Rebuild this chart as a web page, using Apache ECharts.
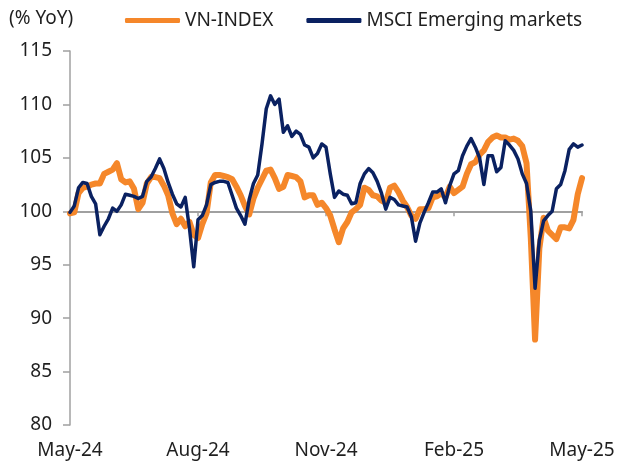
<!DOCTYPE html>
<html>
<head>
<meta charset="utf-8">
<script src="https://cdn.jsdelivr.net/npm/echarts@6/dist/echarts.min.js"></script>
<style>
html,body{margin:0;padding:0;background:#fff}
#main{width:622px;height:466px}
</style>
</head>
<body>
<div id="main"></div>
<script>
var tickLabels = ['May-24', 'Aug-24', 'Nov-24', 'Feb-25', 'May-25'];

var vnIndex = [
  99.8, 99.9, 101.7, 102.2, 102.3, 102.5, 102.6, 102.6, 103.5, 103.7,
  103.9, 104.5, 103.0, 102.7, 102.8, 102.1, 100.2, 100.8, 102.6, 103.2,
  103.2, 103.1, 102.4, 101.5, 99.8, 98.8, 99.3, 98.6, 99.0, 97.8,
  97.5, 98.8, 99.8, 102.7, 103.4, 103.4, 103.3, 103.2, 103.0, 102.3,
  101.5, 100.5, 99.7, 101.2, 102.2, 103.0, 103.8, 103.9, 103.1, 102.1,
  102.3, 103.4, 103.3, 103.2, 102.8, 101.3, 101.5, 101.5, 100.6, 100.8,
  100.3, 99.6, 98.3, 97.1, 98.4, 99.0, 99.9, 100.2, 100.6, 102.2,
  102.0, 101.5, 101.4, 101.0, 100.8, 102.2, 102.4, 101.8, 101.0, 100.4,
  99.6, 99.3, 100.2, 100.2, 100.3, 101.3, 101.4, 101.7, 101.3, 102.3,
  101.7, 102.0, 102.3, 103.5, 104.4, 104.6, 105.3, 105.7, 106.5, 106.9,
  107.1, 106.9, 106.9, 106.7, 106.8, 106.6, 106.1, 104.5, 97.5, 88.0,
  96.5, 99.4, 98.2, 97.8, 97.4, 98.5, 98.5, 98.4, 99.2, 101.6,
  103.1
];

var msciEm = [
  99.9, 100.5, 102.2, 102.7, 102.6, 101.4, 100.7, 97.8, 98.6, 99.3,
  100.3, 100.0, 100.6, 101.6, 101.5, 101.4, 101.2, 101.4, 102.8, 103.2,
  104.0, 104.9, 104.0, 102.7, 101.6, 100.7, 100.4, 101.3, 98.4, 94.8,
  99.2, 99.6, 100.6, 102.5, 102.7, 102.8, 102.8, 102.7, 101.5, 100.3,
  99.6, 98.8, 101.1, 102.6, 103.4, 106.3, 109.6, 110.8, 110.0, 110.5,
  107.4, 108.0, 107.0, 107.5, 107.2, 106.2, 106.0, 105.0, 105.4, 106.3,
  106.0, 103.5, 101.3, 101.9, 101.6, 101.5, 100.7, 100.8, 102.6, 103.5,
  104.0, 103.6, 102.8, 101.7, 100.2, 101.3, 101.1, 100.6, 100.5, 100.4,
  99.5, 97.2, 98.9, 99.9, 100.8, 101.8, 101.8, 102.1, 100.8, 102.4,
  103.5, 103.8, 105.2, 106.1, 106.8, 106.0, 105.0, 102.5, 105.2, 105.2,
  103.7, 104.1, 106.6, 106.2, 105.7, 104.9, 103.5, 102.6, 100.0, 92.8,
  97.3, 99.1, 99.6, 100.0, 102.1, 102.5, 103.8, 105.8, 106.3, 106.0,
  106.2
];

// one point every 3 days
var dates = [];
(function () {
  var d = new Date(Date.UTC(2024, 4, 10));
  for (var i = 0; i < vnIndex.length; i++) {
    dates.push(d.toISOString().slice(0, 10));
    d.setUTCDate(d.getUTCDate() + 3);
  }
})();

var grid = { left: 70, right: 40, top: 51, bottom: 41 };
var plotH = 466 - grid.top - grid.bottom;
var font = '"Noto Sans", "Open Sans", sans-serif';
var quarter = function (i) { return i % 30 === 0; };

var chart = echarts.init(document.getElementById('main'));
chart.setOption({
  animation: false,
  textStyle: { fontFamily: font },
  title: {
    text: '(% YoY)', left: 4, top: 4,
    textStyle: { fontSize: 19, fontWeight: 'normal', color: '#1f1f1f', fontFamily: font }
  },
  legend: {
    left: 120, top: 6,
    itemWidth: 55, itemHeight: 5, itemGap: 33,
    icon: 'roundRect',
    textStyle: { fontSize: 19, color: '#1f1f1f', fontFamily: font },
    data: ['VN-INDEX', 'MSCI Emerging markets']
  },
  grid: grid,
  xAxis: [{
    type: 'category', data: dates, boundaryGap: false,
    axisLine: { show: false },
    axisTick: { show: false },
    axisLabel: {
      interval: quarter, margin: 16, fontSize: 19, color: '#1f1f1f', fontFamily: font,
      formatter: function (v, i) { return tickLabels[Math.round(i / 30)]; }
    }
  }, {
    // line at 100
    type: 'category', data: dates, boundaryGap: false, position: 'bottom',
    offset: -plotH * 20 / 35,
    axisLine: { onZero: false, lineStyle: { color: '#a0a0a0', width: 2 } },
    axisTick: { interval: quarter, length: 5, lineStyle: { color: '#a0a0a0', width: 1.5 } },
    axisLabel: { show: false }
  }],
  yAxis: {
    type: 'value', min: 80, max: 115, interval: 5,
    splitLine: { show: false },
    axisLine: { show: true, lineStyle: { color: '#a0a0a0', width: 1.5 } },
    axisTick: { show: true, length: 7, lineStyle: { color: '#a0a0a0', width: 1.5 } },
    axisLabel: { margin: 18, fontSize: 19, color: '#1f1f1f', fontFamily: font }
  },
  series: [{
    name: 'VN-INDEX', type: 'line', data: vnIndex,
    showSymbol: false, symbol: 'none',
    color: '#f5872a',
    lineStyle: { width: 6, color: '#f5872a', cap: 'round', join: 'round' }
  }, {
    name: 'MSCI Emerging markets', type: 'line', data: msciEm,
    showSymbol: false, symbol: 'none',
    color: '#0a2161',
    lineStyle: { width: 3.5, color: '#0a2161', cap: 'round', join: 'round' }
  }]
});
</script>
</body>
</html>
